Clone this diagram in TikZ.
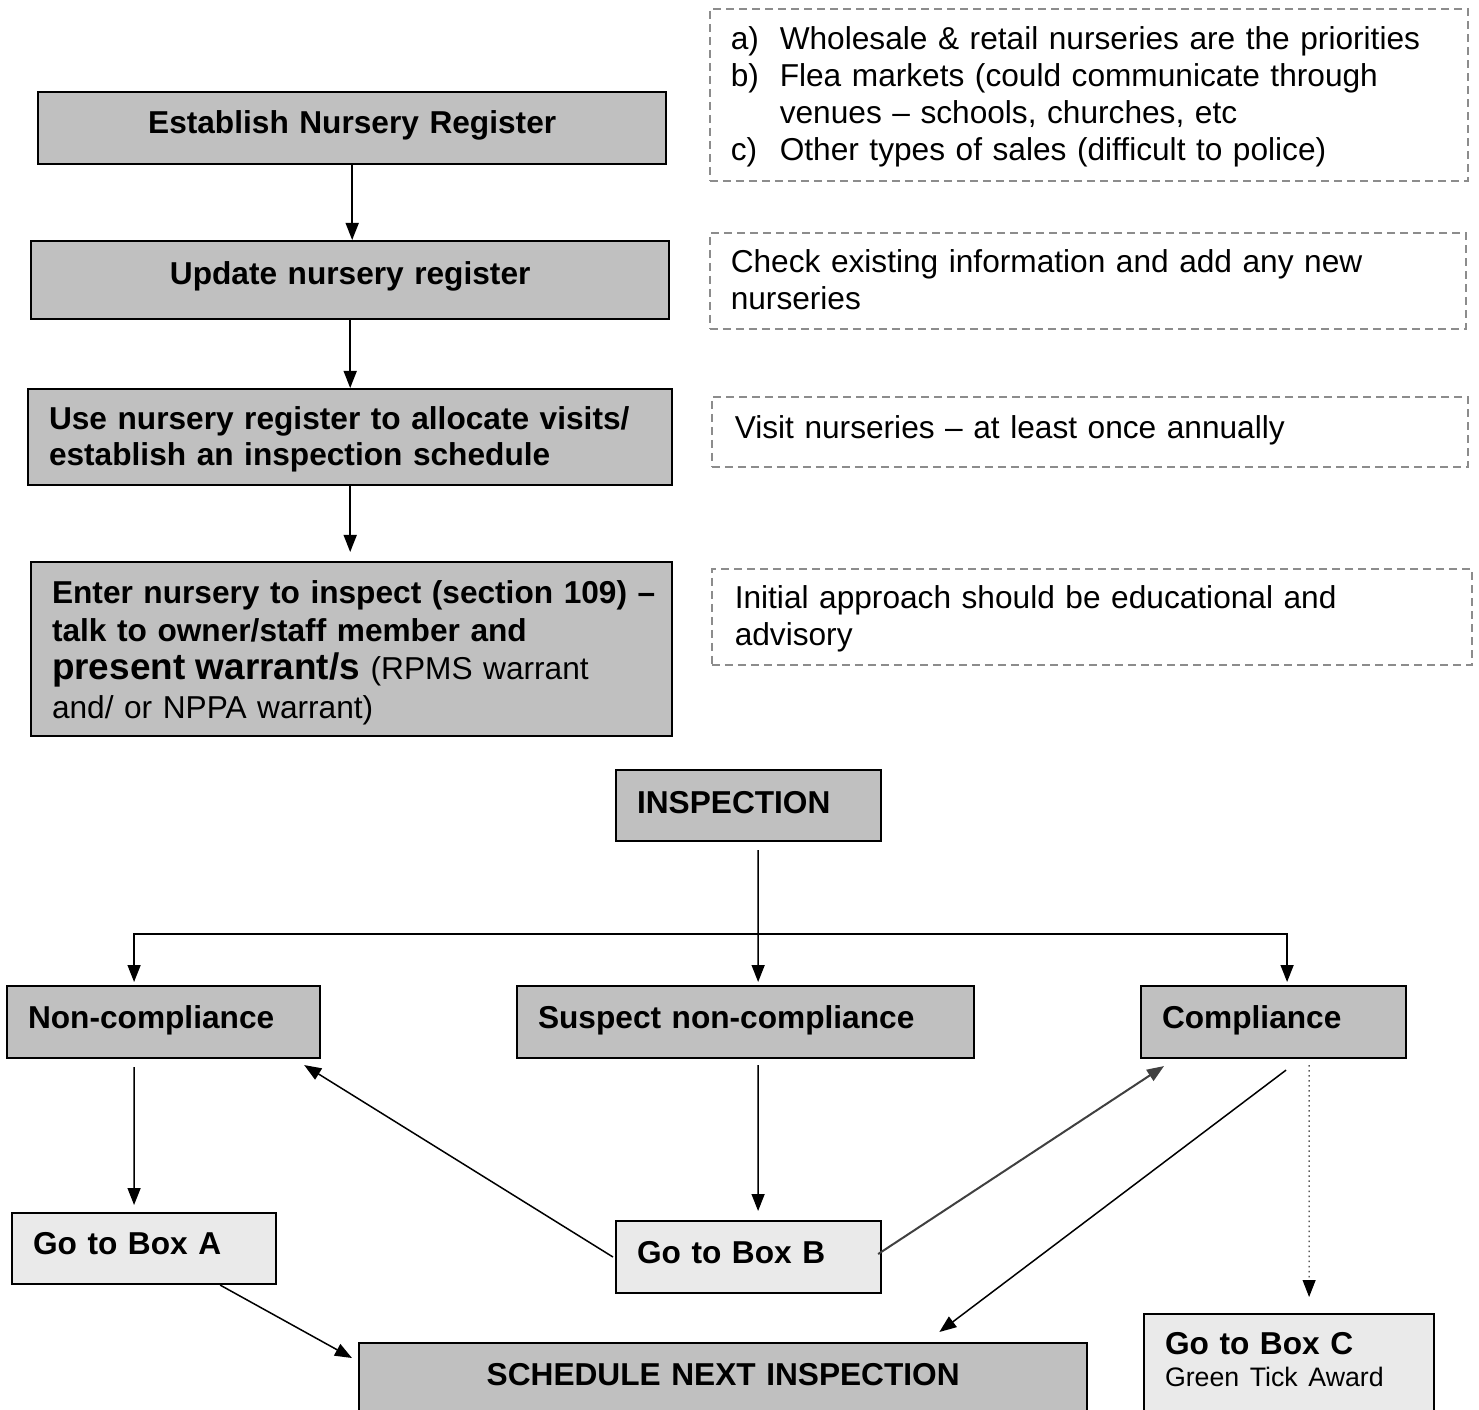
\documentclass[tikz,border=0pt]{standalone}
\usepackage{fontspec}
\setmainfont{Liberation Sans}
\usetikzlibrary{arrows.meta}
\definecolor{boxgray}{HTML}{C0C0C0}
\definecolor{golight}{HTML}{EAEAEA}
\definecolor{notegray}{HTML}{8C8C8C}
\definecolor{linkgray}{HTML}{404040}
\newcommand{\listitem}[2]{\makebox[0.49cm][l]{#1}#2}

\begin{document}
\begin{tikzpicture}[
		x=0.01cm, y=-0.01cm,
		>={Triangle[length=0.17cm,width=0.13cm]},
		font=\fontsize{9}{10.5}\selectfont,
		every node/.style={anchor=north west, inner xsep=0.21cm, inner ysep=0pt},
		stepbox/.style={draw, fill=boxgray, line width=0.02cm, font=\fontsize{9}{10.5}\selectfont\bfseries, align=left},
		gobox/.style={stepbox, fill=golight},
		notebox/.style={draw=notegray, line width=0.015cm, dash pattern=on 0.08cm off 0.05cm, align=left},
		link/.style={->, line width=0.015cm}
	]
	\useasboundingbox (0,0) rectangle (1479,1409);

	% left column
	\node[stepbox, align=center, text width=5.86cm, text height=0.41cm, text depth=0.31cm] (reg) at (37,91) {Establish Nursery Register};
	\node[stepbox, align=center, text width=5.96cm, text height=0.43cm, text depth=0.35cm] (upd) at (30,240) {Update nursery register};
	\node[stepbox, text width=6.02cm, text height=0.40cm, text depth=0.56cm] (alloc) at (27,388) {Use nursery register to allocate visits/\\ establish an inspection schedule};
	\node[stepbox, font=\fontsize{9}{10.9}\selectfont\bfseries, text width=5.99cm, text height=0.41cm, text depth=1.33cm] (enter) at (30,561) {\mbox{Enter nursery to inspect (section 109) --}\\ talk to owner/staff member and\\ {\fontsize{10.5}{12}\selectfont present warrant/s} {\mdseries (RPMS warrant}\\ {\mdseries and/ or NPPA warrant)}};

	% notes on the right
	\node[notebox, text width=7.16cm, text height=0.41cm, text depth=1.31cm] (note1) at (709,8) {\listitem{a)}{Wholesale \& retail nurseries are the priorities}\\ \listitem{b)}{Flea markets (could communicate through}\\ \hspace*{0.49cm}venues -- schools, churches, etc\\ \listitem{c)}{Other types of sales (difficult to police)}};
	\node[notebox, text width=7.14cm, text height=0.40cm, text depth=0.56cm] (note2) at (709,232) {Check existing information and add any new\\ nurseries};
	\node[notebox, inner xsep=0.23cm, text width=7.10cm, text height=0.42cm, text depth=0.28cm] (note3) at (711,396) {Visit nurseries -- at least once annually};
	\node[notebox, inner xsep=0.23cm, text width=7.14cm, text height=0.40cm, text depth=0.56cm] (note4) at (711,568) {Initial approach should be educational and\\ advisory};

	% inspection and outcomes
	\node[stepbox, text width=2.23cm, text height=0.43cm, text depth=0.28cm] (insp) at (615,769) {INSPECTION};
	\node[stepbox, text width=2.71cm, text height=0.42cm, text depth=0.30cm] (nonc) at (6,985) {Non-compliance};
	\node[stepbox, text width=4.15cm, text height=0.42cm, text depth=0.30cm] (susp) at (516,985) {Suspect non-compliance};
	\node[stepbox, text width=2.23cm, text height=0.42cm, text depth=0.30cm] (comp) at (1140,985) {Compliance};

	\node[gobox, text width=2.22cm, text height=0.41cm, text depth=0.30cm] (boxa) at (11,1212) {Go to Box A};
	\node[gobox, text width=2.23cm, text height=0.42cm, text depth=0.30cm] (boxb) at (615,1220) {Go to Box B};
	\node[gobox, text width=2.48cm, text height=0.40cm, text depth=0.80cm] (boxc) at (1143,1313) {Go to Box C\\[-0.04cm] {\mdseries\fontsize{7.6}{9}\selectfont Green Tick Award}};
	\node[stepbox, align=center, text width=6.86cm, text height=0.42cm, text depth=0.60cm] (sched) at (358,1342) {SCHEDULE NEXT INSPECTION};

	% arrows
	\draw[link] (reg.south) -- (reg.south |- upd.north);
	\draw[link] (upd.south) -- (upd.south |- alloc.north);
	\draw[link, shorten >=0.09cm] (alloc.south) -- (alloc.south |- enter.north);

	\coordinate (fork) at (757,934);
	\draw[link] ([xshift=0.095cm,yshift=-0.08cm]insp.south) -- ([xshift=0.125cm,yshift=0.03cm]susp.north);
	\draw[link] (fork) -| ([xshift=-0.295cm,yshift=0.03cm]nonc.north);
	\draw[link] (fork) -| ([xshift=0.135cm,yshift=0.03cm]comp.north);

	\draw[link] ([xshift=-0.295cm,yshift=-0.08cm]nonc.south) -- ([xshift=-0.1cm,yshift=0.07cm]boxa.north);
	\draw[link] ([xshift=0.125cm,yshift=-0.06cm]susp.south) -- ([xshift=0.095cm,yshift=0.09cm]boxb.north);
	\draw[link] ([xshift=-0.02cm]boxb.west) -- ([xshift=-0.17cm,yshift=-0.06cm]nonc.south east);
	\draw[link, linkgray, line width=0.02cm] ([xshift=-0.04cm,yshift=0.03cm]boxb.east) -- ([xshift=0.24cm,yshift=-0.07cm]comp.south west);
	\draw[link] ([xshift=0.125cm,yshift=-0.11cm]comp.south) -- ([xshift=-1.49cm,yshift=0.1cm]sched.north east);
	\draw[link, densely dotted, line width=0.01cm] ([xshift=0.355cm,yshift=-0.06cm]comp.south) -- ([xshift=0.2cm,yshift=0.16cm]boxc.north);
	\draw[link] ([xshift=0.76cm]boxa.south) -- ([xshift=-0.06cm,yshift=-0.16cm]sched.north west);
\end{tikzpicture}
\end{document}
